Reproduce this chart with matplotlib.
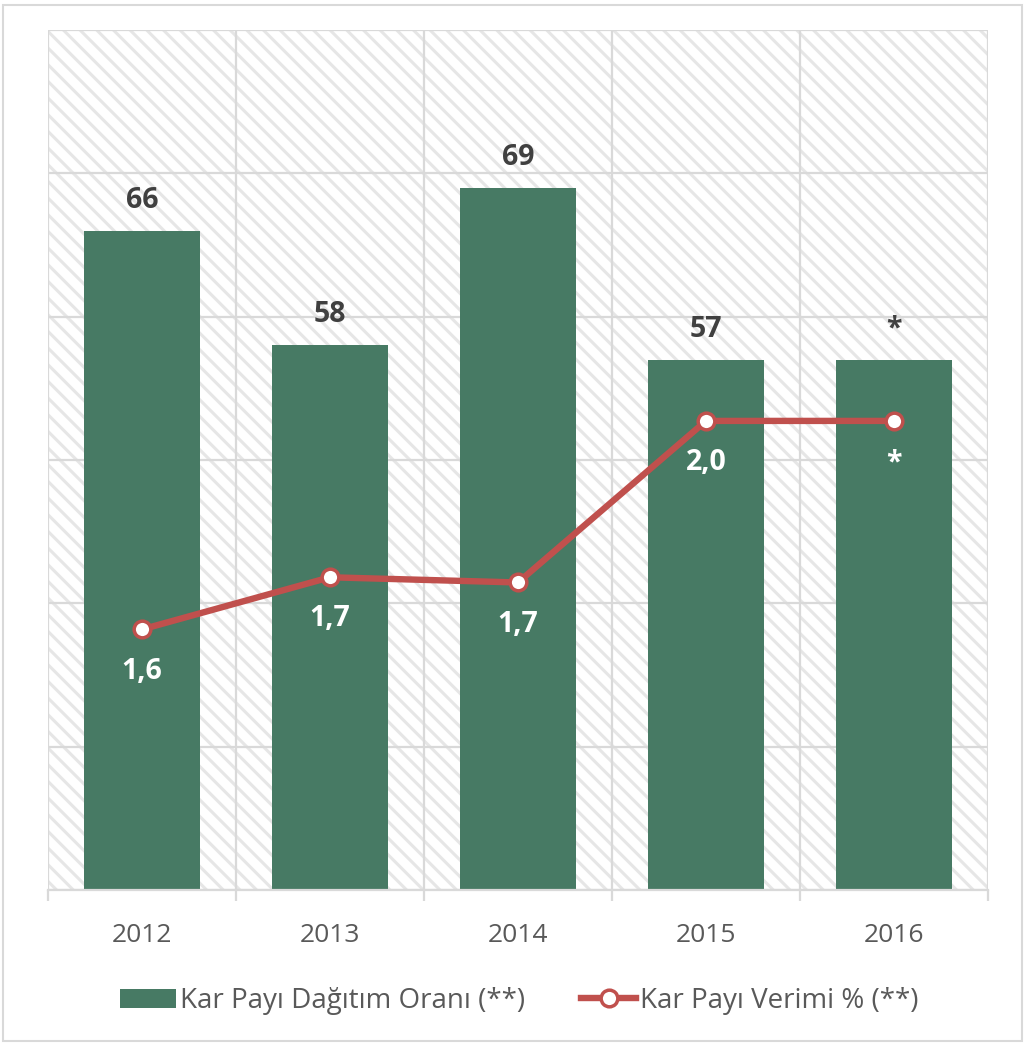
import matplotlib.pyplot as plt
from matplotlib.patches import Rectangle
from matplotlib.lines import Line2D
from matplotlib.patches import Patch

plt.rcParams['font.family'] = ['Open Sans', 'DejaVu Sans']
plt.rcParams['hatch.color'] = '#e6e6e6'
plt.rcParams['hatch.linewidth'] = 2.2

years = ['2012', '2013', '2014', '2015', '2016']
dagitim = [66, 58, 69, 57, 57]
dagitim_labels = ['66', '58', '69', '57', '*']
verim = [1.60, 1.70, 1.69, 2.00, 2.00]
verim_labels = ['1,6', '1,7', '1,7', '2,0', '*']

bar_color = '#477a64'
line_color = '#c0504d'
grid_color = '#d9d9d9'
text_color = '#595959'

fig = plt.figure(figsize=(10.29, 10.45), dpi=100)
ax = fig.add_axes([48 / 1029, 1 - 890 / 1045, 940 / 1029, 860 / 1045])
x = list(range(len(years)))

# hatched background of the plot area
ax.add_patch(Rectangle((0, 0), 1, 1, transform=ax.transAxes, facecolor='white',
                       edgecolor='#e6e6e6', hatch='\\\\', linewidth=0, zorder=0.1))

ax.set_xlim(-0.5, len(years) - 0.5)
ax.set_ylim(20, 80)

# gridlines
for yv in range(20, 81, 10):
    ax.axhline(yv, color=grid_color, linewidth=1.6, zorder=0.5)
for xv in [i - 0.5 for i in range(len(years) + 1)]:
    ax.axvline(xv, color=grid_color, linewidth=1.6, zorder=0.5)

ax.bar(x, dagitim, width=0.62, color=bar_color, zorder=2)
for xi, v, lab in zip(x, dagitim, dagitim_labels):
    ax.annotate(lab, (xi, v), xytext=(0, 22), textcoords='offset points',
                ha='center', va='center', fontsize=20.5, fontweight='bold',
                color='#404040', zorder=5)

for s in ['top', 'left', 'right']:
    ax.spines[s].set_visible(False)
ax.spines['bottom'].set_color(grid_color)
ax.spines['bottom'].set_linewidth(1.6)
ax.set_yticks([])
ax.set_xticks(x)
ax.set_xticklabels(years, fontsize=19, color=text_color)
ax.tick_params(axis='x', which='major', length=0, pad=24)
ax.set_xticks([i - 0.5 for i in range(len(years) + 1)], minor=True)
ax.tick_params(axis='x', which='minor', length=8, width=1.6, color=grid_color)

ax2 = ax.twinx()
ax2.set_ylim(1.1, 2.75)
ax2.set_yticks([])
for s in ax2.spines.values():
    s.set_visible(False)
ax2.plot(x, verim, color=line_color, linewidth=4.6, marker='o', markersize=12,
         markerfacecolor='white', markeredgecolor=line_color, markeredgewidth=2.5,
         solid_capstyle='round', zorder=4)
for xi, v, lab in zip(x, verim, verim_labels):
    ax2.annotate(lab, (xi, v), xytext=(0, -30), textcoords='offset points',
                 ha='center', va='center', fontsize=20.5, fontweight='bold',
                 color='white', zorder=5)

handles = [Patch(facecolor=bar_color, edgecolor='none'),
           Line2D([], [], color=line_color, linewidth=4.6, marker='o', markersize=12,
                  markerfacecolor='white', markeredgecolor=line_color, markeredgewidth=2.5)]
fig.legend(handles, ['Kar Payı Dağıtım Oranı (**)', 'Kar Payı Verimi % (**)'],
           loc='center', bbox_to_anchor=(0.505, 1 - 1001 / 1045), ncol=2, frameon=False,
           fontsize=20, labelcolor=text_color, handlelength=2.0, handleheight=0.65,
           handletextpad=0.15, columnspacing=2.0)

fig.patches.append(Rectangle((3 / 1029, 4 / 1045), 1019 / 1029, 1036 / 1045,
                             transform=fig.transFigure, fill=False,
                             edgecolor=grid_color, linewidth=1.5))

fig.savefig('out.png', dpi=100)
